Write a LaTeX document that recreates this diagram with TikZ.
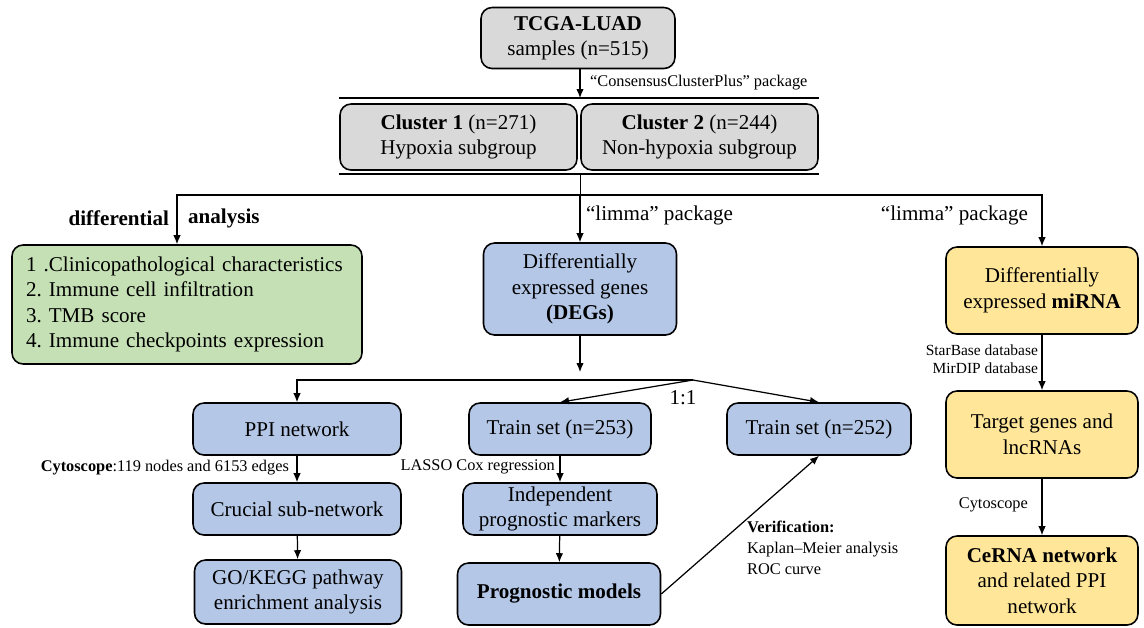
\documentclass[tikz,border=0pt]{standalone}
\usepackage{fontspec}
\setmainfont{Liberation Serif}
\usetikzlibrary{positioning,arrows.meta}
\definecolor{grayF}{HTML}{D9D9D9}
\definecolor{greenF}{HTML}{C5E0B4}
\definecolor{blueF}{HTML}{B4C7E7}
\definecolor{yellowF}{HTML}{FFE699}
\frenchspacing

\begin{document}
\begin{tikzpicture}[x=0.02cm,y=-0.02cm,
 box/.style={draw,rounded corners=0.22cm,line width=0.9pt,align=center,inner sep=2pt,font=\fontsize{12}{14.5}\selectfont},
 gbox/.style={box,fill=grayF},
 grn/.style={box,fill=greenF},
 blu/.style={box,fill=blueF},
 ylw/.style={box,fill=yellowF,minimum width=3.84cm},
 lab/.style={font=\fontsize{9.3}{11}\selectfont,inner sep=1pt},
 big/.style={font=\fontsize{12}{14}\selectfont,inner sep=1pt},
 bar/.style={line width=0.9pt},
 arr/.style={-{Latex[length=1.8mm,width=1.5mm]},line width=0.7pt}]
\useasboundingbox (0,0) rectangle (1144,627);
% top: samples and clusters
\node[gbox,minimum width=3.88cm,minimum height=1.22cm] (tcga) at (578,38) {\textbf{TCGA-LUAD}\\samples (n=515)};
\node[gbox,minimum width=4.74cm,minimum height=1.32cm] (cl1) at (458.5,137) {\textbf{Cluster 1} (n=271)\\Hypoxia subgroup};
\node[gbox,minimum width=4.74cm,minimum height=1.32cm] (cl2) at (699.5,137) {\textbf{Cluster 2} (n=244)\\Non-hypoxia subgroup};
\coordinate (sp1) at (580,98);
\coordinate (sp2) at (580,174);
\coordinate (hub) at (580,195);
\coordinate (dl) at (177,195);
\draw[bar] (cl1.west |- sp1) -- (cl2.east |- sp1);
\draw[bar] (cl1.west |- sp2) -- (cl2.east |- sp2);
\draw[arr] (tcga.south -| sp1) -- (sp1);
\node[lab,anchor=west] (ccp) at (588,83) {“ConsensusClusterPlus” package};
% three branches
\node[grn,minimum width=7.0cm,minimum height=2.38cm,text width=6.44cm,inner xsep=0.28cm,align=left] (diff) at (187,304.5) {1 .Clinicopathological characteristics\\2. Immune cell infiltration\\3. TMB score\\4. Immune checkpoints expression};
\node[blu,minimum width=3.86cm,minimum height=1.84cm] (degs) at (580,289) {Differentially\\expressed genes\\\textbf{(DEGs)}};
\node[ylw,minimum height=1.74cm] (mirna) at (1042,290.5) {Differentially\\expressed \textbf{miRNA}};
\draw (sp2) -- (hub);
\draw[arr] (hub) -- (dl) -- (dl |- diff.north);
\draw[arr] (hub) -- (degs.north);
\draw[arr] (hub) -| (mirna.north);
\node[big,anchor=east,font=\fontsize{12}{14}\selectfont\bfseries] (dfa) at (171,218) {differential};
\node[big,anchor=west,font=\fontsize{12}{14}\selectfont\bfseries] (dfb) at (186,218) {analysis};
\node[big,anchor=west] (lim1) at (584,215) {“limma” package};
\node[big,anchor=east] (lim2) at (1030,215) {“limma” package};
% DEGs branch
\node[blu,minimum width=4.16cm,minimum height=1.04cm] (ppi) at (297,429) {PPI network};
\node[blu,minimum width=4.16cm,minimum height=1.04cm] (sub) at (297,509) {Crucial sub-network};
\node[blu,minimum width=4.14cm,minimum height=1.28cm] (gok) at (298,592) {GO/KEGG pathway\\enrichment analysis};
\node[blu,minimum width=3.64cm,minimum height=1.04cm] (tr1) at (560,429) {Train set (n=253)};
\node[blu,minimum width=3.88cm,minimum height=1.04cm] (mark) at (560,509) {Independent\\prognostic markers};
\node[blu,minimum width=4.06cm,minimum height=1.24cm] (model) at (559,594) {\textbf{Prognostic models}};
\node[blu,minimum width=3.68cm,minimum height=1.04cm] (tr2) at (819,429) {Train set (n=252)};
\coordinate (fork) at (693,380);
\draw[arr,shorten >=0.16cm] (degs.south) -- (degs.south |- fork);
\draw[arr] (fork) -| (ppi.north);
\draw[arr] (fork) -- (tr1.north);
\draw[arr] (fork) -- (tr2.north);
\node[big] (ratio) at (683,398) {1:1};
\draw[arr] (ppi) -- (sub);
\draw[arr] (sub) -- (gok);
\draw[arr] (tr1) -- (mark);
\draw[arr] (mark) -- (model);
\draw[arr] (model.east) -- (tr2.south);
\node[lab,anchor=east] (cyt1) at (291,468) {\textbf{Cytoscope}:119 nodes and 6153 edges};
\node[lab,anchor=east] (lasso) at (557,467) {LASSO Cox regression};
\node[lab,anchor=north west,align=left,font=\fontsize{9.3}{11.8}\selectfont] (veri) at (745,519) {\textbf{Verification:}\\Kaplan--Meier analysis\\ROC curve};
% miRNA branch
\node[ylw,minimum height=1.74cm] (targ) at (1042,434.5) {Target genes and\\lncRNAs};
\node[ylw,minimum height=1.78cm] (cerna) at (1042,580.5) {\textbf{CeRNA network}\\and related PPI\\network};
\draw[arr] (mirna) -- (targ);
\draw[arr] (targ) -- (cerna);
\node[lab,anchor=east,align=right,font=\fontsize{8.8}{10.2}\selectfont] (db) at (1040,359) {StarBase database\\MirDIP database};
\node[lab,anchor=east] (cyt2) at (1030,505) {Cytoscope};
\end{tikzpicture}
\end{document}
